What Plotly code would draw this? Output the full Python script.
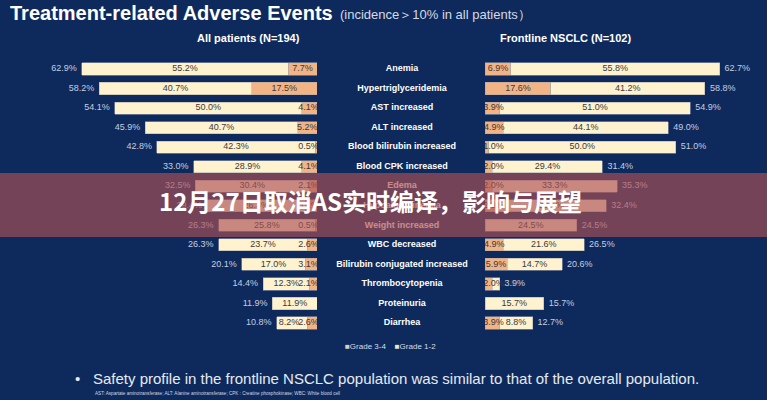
import plotly.graph_objects as go

W, H = 767, 400

categories = ["Anemia", "Hypertriglyceridemia", "AST increased", "ALT increased",
              "Blood bilirubin increased", "Blood CPK increased", "Edema", "Hypoalbuminemia",
              "Weight increased", "WBC decreased", "Bilirubin conjugated increased",
              "Thrombocytopenia", "Proteinuria", "Diarrhea"]

# All patients (N=194)
all_g34 = [7.7, 17.5, 4.1, 5.2, 0.5, 4.1, 2.1, 3.1, 0.5, 2.6, 3.1, 2.1, 0.0, 2.6]
all_g12 = [55.2, 40.7, 50.0, 40.7, 42.3, 28.9, 30.4, 26.3, 25.8, 23.7, 17.0, 12.3, 11.9, 8.2]
all_tot = [62.9, 58.2, 54.1, 45.9, 42.8, 33.0, 32.5, 29.4, 26.3, 26.3, 20.1, 14.4, 11.9, 10.8]

# Frontline NSCLC (N=102)
fl_g34 = [6.9, 17.6, 3.9, 4.9, 1.0, 2.0, 2.0, 2.9, 0.0, 4.9, 5.9, 2.0, 0.0, 3.9]
fl_g12 = [55.8, 41.2, 51.0, 44.1, 50.0, 29.4, 33.3, 29.5, 24.5, 21.6, 14.7, 1.9, 15.7, 8.8]
fl_tot = [62.7, 58.8, 54.9, 49.0, 51.0, 31.4, 35.3, 32.4, 24.5, 26.5, 20.6, 3.9, 15.7, 12.7]

legend_labels = ["Grade 3-4", "Grade 1-2"]

BG = "#0e2a5c"
C34 = "#f2b385"
C12 = "#fff2cf"
FONT = "Liberation Sans"
HALF_LABEL = 2.3  # half a label's width, in axis units
LABEL_GAP = 0.6


def px(x):
    return x / W


def py(y):
    return 1 - y / H


def lab(vals):
    return [f"{v:.1f}%" if v > 0 else "" for v in vals]


fig = go.Figure()
line = dict(color="rgba(170,170,170,0.9)", width=0.6)
for xa, g34, g12 in (("x", all_g34, all_g12), ("x2", fl_g34, fl_g12)):
    fig.add_trace(go.Bar(y=categories, x=g34, name=legend_labels[0], orientation="h",
                         marker=dict(color=C34, line=line), xaxis=xa, yaxis="y",
                         showlegend=False))
    fig.add_trace(go.Bar(y=categories, x=g12, name=legend_labels[1], orientation="h",
                         marker=dict(color=C12, line=line), xaxis=xa, yaxis="y",
                         showlegend=False))

seg_font = dict(size=9, color="#3a3a3a", family=FONT)
for xa, g34, g12 in (("x", all_g34, all_g12), ("x2", fl_g34, fl_g12)):
    pos34 = [max(v / 2, HALF_LABEL) for v in g34]
    pos12 = [max(a + b / 2, (p + 2 * HALF_LABEL + LABEL_GAP) if a > 0 else 0)
             for a, b, p in zip(g34, g12, pos34)]
    fig.add_trace(go.Scatter(y=categories, x=pos34, text=lab(g34), mode="text",
                             textposition="middle center", textfont=seg_font, xaxis=xa,
                             yaxis="y", showlegend=False, hoverinfo="skip"))
    fig.add_trace(go.Scatter(y=categories, x=pos12, text=lab(g12), mode="text",
                             textposition="middle center", textfont=seg_font, xaxis=xa,
                             yaxis="y", showlegend=False, hoverinfo="skip"))

tot_font = dict(size=9, color="#c4cee0", family=FONT)
fig.add_trace(go.Scatter(y=categories, x=all_tot, text=[f"{v:.1f}%  " for v in all_tot],
                         mode="text", textposition="middle left", textfont=tot_font,
                         xaxis="x", yaxis="y", showlegend=False, hoverinfo="skip"))
fig.add_trace(go.Scatter(y=categories, x=fl_tot, text=[f"  {v:.1f}%" for v in fl_tot],
                         mode="text", textposition="middle right", textfont=tot_font,
                         xaxis="x2", yaxis="y", showlegend=False, hoverinfo="skip"))
fig.add_trace(go.Scatter(y=categories, x=[0.5] * len(categories),
                         text=[f"<b>{c}</b>" for c in categories],
                         mode="text", textposition="middle center",
                         textfont=dict(size=9, color="#ffffff", family=FONT),
                         xaxis="x3", yaxis="y", showlegend=False, hoverinfo="skip"))

n = len(categories)
fig.update_layout(
    width=W, height=H, margin=dict(l=0, r=0, t=0, b=0),
    paper_bgcolor=BG, plot_bgcolor=BG,
    barmode="stack", bargap=0.38,
    xaxis=dict(domain=[px(36.5), px(317)], range=[75, 0], visible=False, anchor="y"),
    xaxis2=dict(domain=[px(485), px(765.5)], range=[0, 75], visible=False, anchor="y"),
    xaxis3=dict(domain=[px(330), px(474)], range=[0, 1], visible=False, anchor="y"),
    yaxis=dict(domain=[py(332.8), py(59.2)], range=[n - 0.5, -0.5], visible=False,
               type="category", categoryorder="array", categoryarray=categories),
    showlegend=False,
)

fig.add_shape(type="rect", xref="paper", yref="paper", x0=0, x1=1, y0=py(237), y1=py(173),
              fillcolor="rgba(171,81,85,0.66)", line=dict(width=0), layer="above")

legend_text = (f"<span style='color:#d9cfc4'>■</span>{legend_labels[0]}    "
               f"<span style='color:#e9e4d6'>■</span>{legend_labels[1]}")

ann = [
    dict(text="<b>Treatment-related Adverse Events</b>", x=px(8), y=py(13),
         font=dict(size=20, color="#ffffff", family=FONT)),
    dict(text="(incidence＞10% in all patients）", x=px(338), y=py(14),
         font=dict(size=13, color="#d4dae6", family=FONT)),
    dict(text="<b>All patients (N=194)</b>", x=px(248), y=py(38), xanchor="center",
         font=dict(size=11, color="#ffffff", family=FONT)),
    dict(text="<b>Frontline NSCLC (N=102)</b>", x=px(565), y=py(38), xanchor="center",
         font=dict(size=11, color="#ffffff", family=FONT)),
    dict(text=legend_text, x=px(391), y=py(346), xanchor="center",
         font=dict(size=8, color="#d8dde8", family=FONT)),
    dict(text="•", x=px(73), y=py(378),
         font=dict(size=15, color="#e6eaf2", family=FONT)),
    dict(text="Safety profile in the frontline NSCLC population was similar to that of the overall population.",
         x=px(91), y=py(378), font=dict(size=15, color="#e6eaf2", family=FONT)),
    dict(text="AST: Aspartate aminotransferase; ALT: Alanine aminotransferase; CPK : Creatine phosphokinase; WBC: White blood cell",
         x=px(93), y=py(393), font=dict(size=4.6, color="#d0d6e2", family=FONT)),
    dict(text="<b>12月27日取消AS实时编译，影响与展望</b>", x=px(370), y=py(201), xanchor="center",
         font=dict(size=24, color="#ffffff", family="Noto Sans CJK SC")),
]
for a in ann:
    a.setdefault("xanchor", "left")
    fig.add_annotation(xref="paper", yref="paper", yanchor="middle", showarrow=False, **a)

fig.write_html("out.html")
